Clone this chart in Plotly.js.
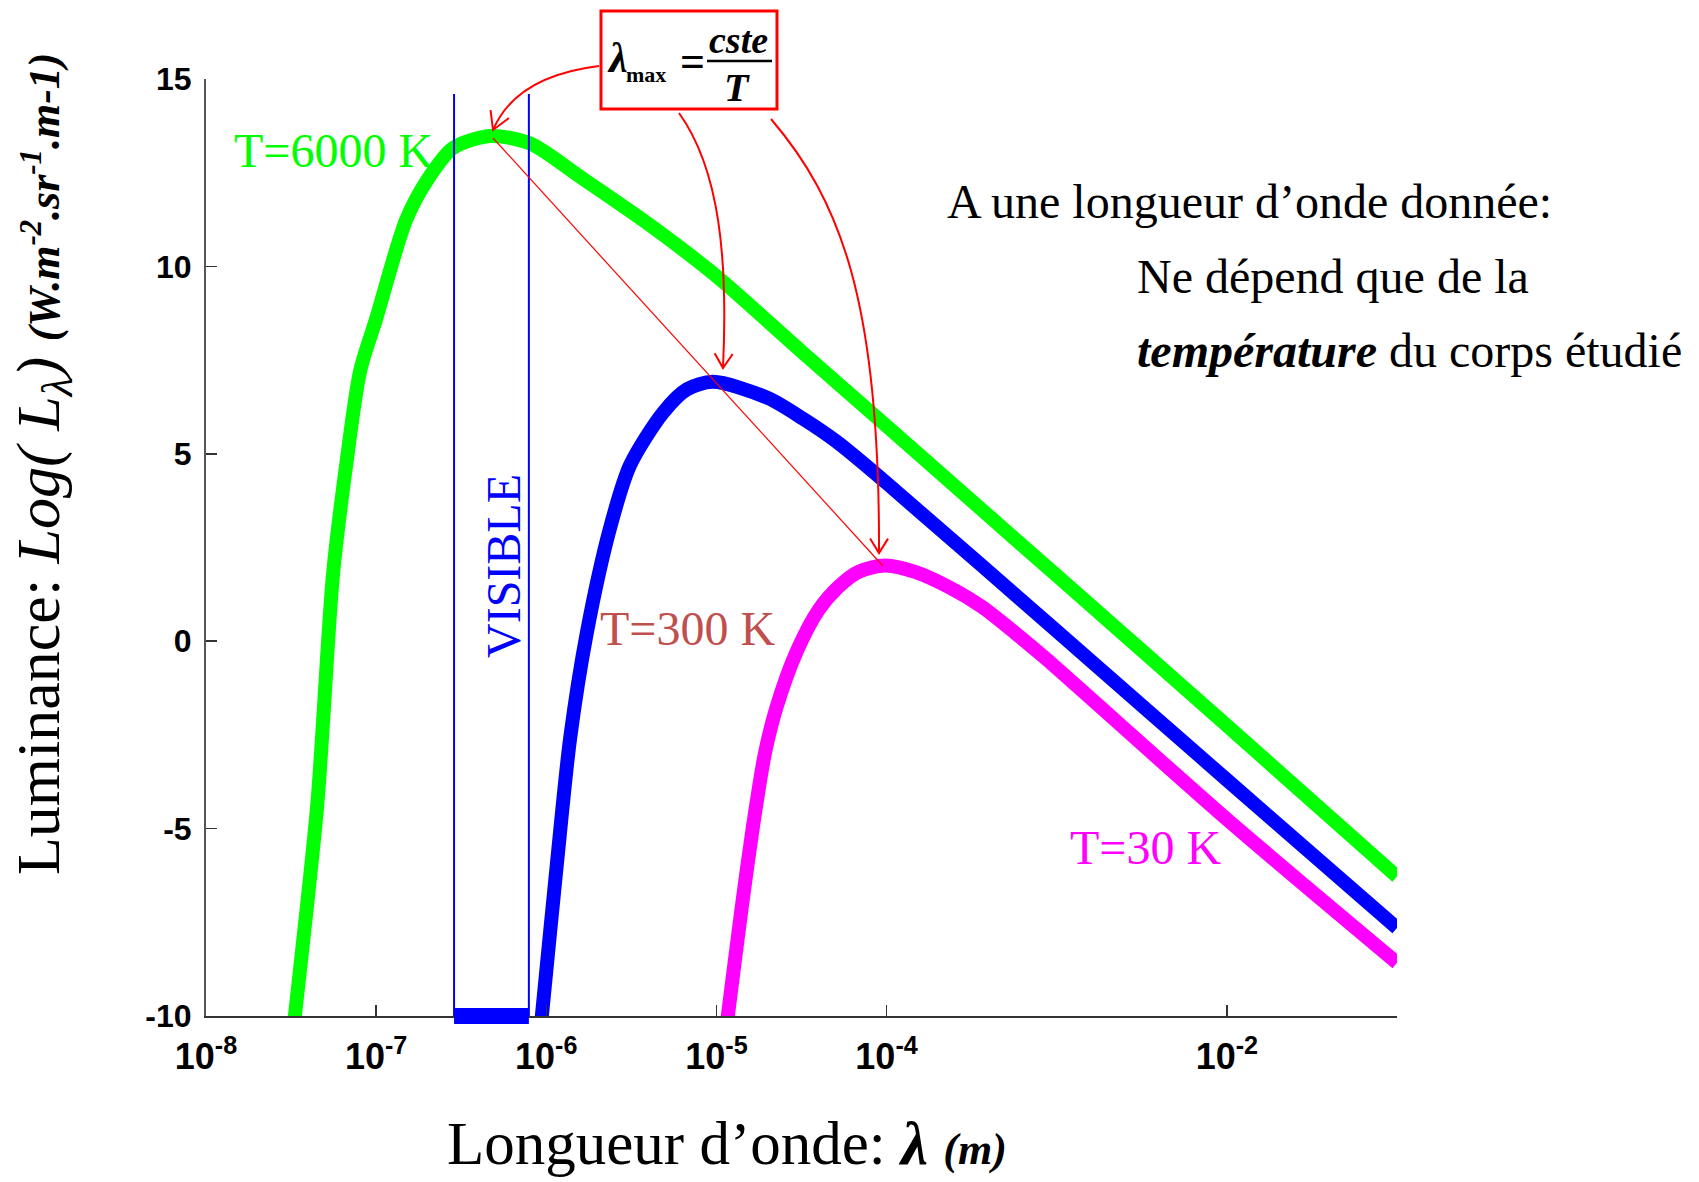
<!DOCTYPE html>
<html><head><meta charset="utf-8">
<script src="https://cdn.plot.ly/plotly-3.0.1.min.js"></script>
<style>html,body{margin:0;padding:0;background:#fff}</style>
</head><body><div id="chart" style="width:1699px;height:1182px"></div>
<script>
// ---- data ----
const lambda6000 = [3.24e-8, 3.33e-8, 4.50e-8, 5.58e-8, 6.75e-8, 8.05e-8, 1.0e-7, 1.5e-7, 2.0e-7, 2.83e-7, 4.68e-7, 8.04e-7, 1.58e-6, 4.07e-6, 1e-5, 3.16e-5, 1e-4, 1e-3, 1e-2, 1e-1];
const logL6000   = [-10.5, -10, -4.4, 1.79, 4.89, 7.21, 8.60, 11.24, 12.31, 13.16, 13.48, 13.28, 12.39, 11.1, 9.74, 7.73, 5.74, 1.75, -2.25, -6.28];

const lambda300 = [9.14e-7, 9.42e-7, 1.153e-6, 1.38e-6, 1.73e-6, 2.37e-6, 3.11e-6, 4.86e-6, 6.70e-6, 9.55e-6, 2.0e-5, 3.24e-5, 5.13e-5, 1e-4, 1e-3, 1e-2, 1e-1];
const logL300   = [-10.6, -10, -5.96, -2.6, 0.22, 3.02, 4.70, 6.10, 6.72, 6.92, 6.49, 5.93, 5.31, 4.22, 0.27, -3.7, -7.65];

const lambda30 = [1.13e-5, 1.167e-5, 1.41e-5, 1.65e-5, 1.93e-5, 2.26e-5, 2.96e-5, 3.98e-5, 5.21e-5, 6.84e-5, 9.82e-5, 1.47e-4, 2.31e-4, 3.63e-4, 5.70e-4, 8.55e-4, 1e-2, 1e-1];
const logL30   = [-10.5, -10.0, -7.08, -4.86, -2.98, -1.75, -0.28, 0.83, 1.45, 1.85, 2.02, 1.85, 1.45, 0.92, 0.22, -0.45, -4.75, -8.58];

const visibleBand = [2.87e-7, 7.9e-7];
const visibleSpan = [-10, 14.6];

const xTickVals = [1e-8, 1e-7, 1e-6, 1e-5, 1e-4, 1e-2];
const xTickText = ['10<sup>-8</sup>', '10<sup>-7</sup>', '10<sup>-6</sup>', '10<sup>-5</sup>', '10<sup>-4</sup>', '10<sup>-2</sup>'];
const yTickVals = [15, 10, 5, 0, -5, -10];
const yTickText = ['15', '10', '5', '0', '-5', '-10'];

const curveLabels = ['T=6000 K', 'T=300 K', 'T=30 K'];

// ---- layout helpers (pixel -> paper) ----
const PX_L = 206, PX_R = 1397, PX_T = 79, PX_B = 1016;
function fx(x){ return (x - PX_L) / (PX_R - PX_L); }
function fy(y){ return (PX_B - y) / (PX_B - PX_T); }
function pt(x, y){ return fx(x).toFixed(5) + ',' + fy(y).toFixed(5); }
function head(tx, ty, cx, cy, len, ang){
  let dx = tx - cx, dy = ty - cy; const n = Math.hypot(dx, dy); dx /= n; dy /= n;
  const bx = -dx, by = -dy, a = ang * Math.PI / 180;
  const p1 = [tx + len * (bx * Math.cos(a) - by * Math.sin(a)), ty + len * (bx * Math.sin(a) + by * Math.cos(a))];
  const p2 = [tx + len * (bx * Math.cos(-a) - by * Math.sin(-a)), ty + len * (bx * Math.sin(-a) + by * Math.cos(-a))];
  return 'M ' + pt(p1[0], p1[1]) + ' L ' + pt(tx, ty) + ' L ' + pt(p2[0], p2[1]);
}
function curve(p0, c1, c2, p1){
  return 'M ' + pt(p0[0], p0[1]) + ' C ' + pt(c1[0], c1[1]) + ' ' + pt(c2[0], c2[1]) + ' ' + pt(p1[0], p1[1]);
}

const RED = '#ff0000';
const serif = 'Liberation Serif, Times New Roman, serif';

const traces = [
  {x: lambda6000, y: logL6000, mode: 'lines', line: {color: '#00ff00', width: 14, shape: 'spline', smoothing: 0.8}, hoverinfo: 'skip'},
  {x: lambda300, y: logL300, mode: 'lines', line: {color: '#0000ff', width: 14, shape: 'spline', smoothing: 0.8}, hoverinfo: 'skip'},
  {x: lambda30, y: logL30, mode: 'lines', line: {color: '#ff00ff', width: 14, shape: 'spline', smoothing: 0.8}, hoverinfo: 'skip'},
  {x: [visibleBand[0], visibleBand[0], null, visibleBand[1], visibleBand[1]],
   y: [visibleSpan[0], visibleSpan[1], null, visibleSpan[0], visibleSpan[1]],
   mode: 'lines', line: {color: '#0000ff', width: 2}, hoverinfo: 'skip'}
];

const shapes = [
  // thick bar of the visible band on the x axis
  {type: 'rect', xref: 'x', yref: 'paper', x0: visibleBand[0], x1: visibleBand[1], y0: fy(1024), y1: fy(1008),
   fillcolor: '#0000ff', line: {width: 0}, layer: 'above'},
  // formula box
  {type: 'rect', xref: 'paper', yref: 'paper', x0: fx(601), x1: fx(777), y0: fy(109), y1: fy(11),
   line: {color: RED, width: 3}, fillcolor: 'rgba(0,0,0,0)'},
  {type: 'line', xref: 'paper', yref: 'paper', x0: fx(707), x1: fx(772), y0: fy(61), y1: fy(61),
   line: {color: '#000', width: 2.5}},
  // arrows
  {type: 'path', xref: 'paper', yref: 'paper', path: curve([599, 66], [550, 72], [510, 90], [493, 130]), line: {color: RED, width: 2}},
  {type: 'path', xref: 'paper', yref: 'paper', path: head(493, 130, 510, 90, 20, 30), line: {color: RED, width: 2}},
  {type: 'path', xref: 'paper', yref: 'paper', path: curve([679, 113], [720, 170], [728, 260], [723, 368]), line: {color: RED, width: 2}},
  {type: 'path', xref: 'paper', yref: 'paper', path: head(723, 368, 728, 260, 17, 32), line: {color: RED, width: 2}},
  {type: 'path', xref: 'paper', yref: 'paper', path: curve([771, 119], [840, 200], [880, 300], [879, 553]), line: {color: RED, width: 2}},
  {type: 'path', xref: 'paper', yref: 'paper', path: head(879, 553, 880, 300, 17, 32), line: {color: RED, width: 2}},
  // Wien line
  {type: 'line', xref: 'paper', yref: 'paper', x0: fx(493), y0: fy(138), x1: fx(883), y1: fy(566), line: {color: RED, width: 1.2}}
];

function ann(text, x, y, size, color, extra){
  return Object.assign({text: text, xref: 'paper', yref: 'paper', x: fx(x), y: fy(y), showarrow: false,
    xanchor: 'center', yanchor: 'middle', font: {family: serif, size: size, color: color}}, extra || {});
}

const annotations = [
  ann(curveLabels[0], 333, 150, 48, '#00ff00'),
  ann(curveLabels[1], 687, 628, 48, '#c0504d'),
  ann(curveLabels[2], 1145, 847, 48, '#ff00ff'),
  ann('VISIBLE', 503, 566, 48, '#0000ff', {textangle: -90}),
  // formula
  ann('<b><i>λ</i></b>', 617, 58, 42, '#000'),
  ann('<b>max</b>', 646, 75, 22, '#000'),
  ann('<b>=</b>', 692, 61, 44, '#000'),
  ann('<b><i>cste</i></b>', 738, 40, 38, '#000'),
  ann('<b><i>T</i></b>', 737, 87, 40, '#000'),
  // right text
  ann('A une longueur d’onde donnée:', 945, 201, 48, '#000', {xanchor: 'left'}),
  ann('Ne dépend que de la', 1135, 276, 48, '#000', {xanchor: 'left'}),
  ann('<b><i>température</i></b> du corps étudié', 1135, 350, 48, '#000', {xanchor: 'left'}),
  // axis titles
  ann('Luminance: <i>Log( L</i><sub><i>λ</i></sub><i>)</i> <span style="font-size:44px"><b><i>(W.m<sup>-2</sup>.sr<sup>-1</sup>.m-1)</i></b></span>',
      42, 464, 62, '#000', {textangle: -90}),
  ann('Longueur d’onde: <b><i>λ</i></b> <span style="font-size:44px"><b><i>(m)</i></b></span>', 727, 1143, 61, '#000')
];

const layout = {
  width: 1699, height: 1182, autosize: false,
  margin: {l: PX_L, r: 1699 - PX_R, t: PX_T, b: 1182 - PX_B, pad: 0},
  paper_bgcolor: '#fff', plot_bgcolor: '#fff',
  showlegend: false,
  xaxis: {type: 'log', range: [-8, -1], tickmode: 'array', tickvals: xTickVals, ticktext: xTickText,
    ticks: 'inside', ticklen: 11, tickwidth: 1.5, tickcolor: '#333',
    showline: true, linecolor: '#333', linewidth: 2, showgrid: false, zeroline: false, mirror: false,
    tickfont: {family: 'Liberation Sans, Arial, sans-serif', size: 36, color: '#000', weight: 'bold'},
    ticklabelstandoff: 8},
  yaxis: {range: [-10, 15], tickmode: 'array', tickvals: yTickVals, ticktext: yTickText,
    ticks: 'inside', ticklen: 11, tickwidth: 1.5, tickcolor: '#333',
    showline: true, linecolor: '#555', linewidth: 2, showgrid: false, zeroline: false, mirror: false,
    tickfont: {family: 'Liberation Sans, Arial, sans-serif', size: 32, color: '#000', weight: 'bold'},
    ticklabelstandoff: 6},
  shapes: shapes,
  annotations: annotations
};

Plotly.newPlot('chart', traces, layout, {displayModeBar: false, staticPlot: true});
</script>
</body></html>
